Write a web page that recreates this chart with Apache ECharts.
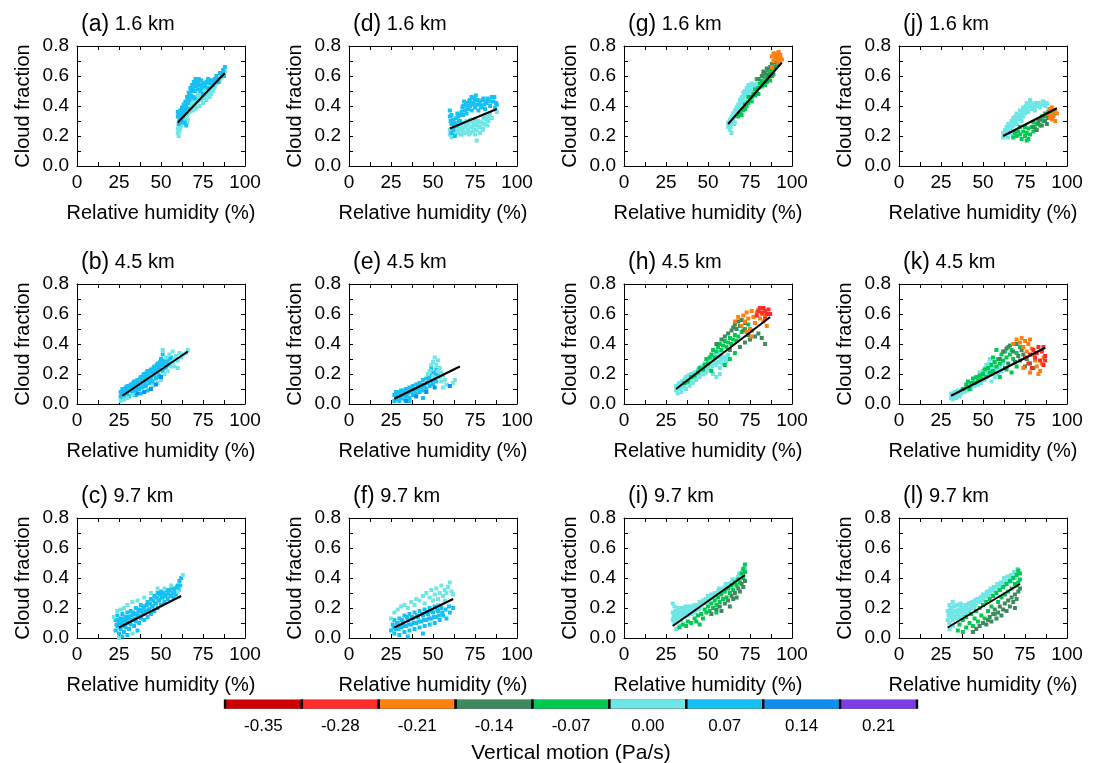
<!DOCTYPE html>
<html><head><meta charset="utf-8">
<script src="https://cdn.jsdelivr.net/npm/echarts@6/dist/echarts.min.js"></script>
<style>html,body{margin:0;padding:0;background:#fff}#c{width:1096px;height:763px}</style>
</head><body><div id="c"></div>
<script>
// ---- labels ----
const panelLetters = ['(a)','(b)','(c)','(d)','(e)','(f)','(g)','(h)','(i)','(j)','(k)','(l)'];
const panelHeights = ['1.6 km','4.5 km','9.7 km','1.6 km','4.5 km','9.7 km','1.6 km','4.5 km','9.7 km','1.6 km','4.5 km','9.7 km'];
const xTickValues = [0,25,50,75,100];
const yTickValues = [0.0,0.2,0.4,0.6,0.8];
const cbarLabels = ['-0.35','-0.28','-0.21','-0.14','-0.07','0.00','0.07','0.14','0.21'];
const cbarColors = ['#CC0000','#FF2B2B','#FF7F0F','#3D8A5E','#00C850','#6EE6E6','#17C0F2','#0E8FEF','#7B3CE8'];
const RED0=0, RED=1, ORANGE=2, DKGREEN=3, GREEN=4, CYAN=5, SKY=6, BLUE=7;

// ---- regression lines [rh, cf] endpoints ----
const fit_a=[[60,0.29],[88,0.62]], fit_b=[[27,0.055],[66,0.35]], fit_c=[[25,0.07],[62,0.28]];
const fit_d=[[60,0.25],[88,0.38]], fit_e=[[27,0.035],[66,0.25]], fit_f=[[27,0.07],[62,0.26]];
const fit_g=[[62,0.28],[94,0.69]], fit_h=[[31,0.10],[87,0.58]], fit_i=[[29,0.08],[72,0.42]];
const fit_j=[[62,0.20],[94,0.385]], fit_k=[[31,0.055],[87,0.375]], fit_l=[[29,0.07],[72,0.36]];

// ---- scatter data [rh, cloud fraction] ----
const a_cyan=[[60,0.22],[60,0.25],[60.5,0.20],[61,0.26],[62,0.27],[63,0.29],[64,0.32],[65,0.33],[66,0.35],[67,0.36],[68,0.38],[68,0.42],[69,0.40],[70,0.41],[70,0.44],[71,0.39],[71,0.46],[72,0.43],[72,0.48],[73,0.45],[73,0.40],[74,0.44],[74,0.49],[75,0.42],[75,0.50],[76,0.46],[76,0.51],[77,0.44],[77,0.49],[78,0.48],[79,0.50],[79,0.46],[80,0.52],[80,0.48],[81,0.50],[82,0.53],[83,0.55],[84,0.58],[85,0.57],[86,0.59],[87,0.61],[88,0.63],[68,0.45],[72,0.47],[76,0.47],[61,0.23],[66,0.31],[69,0.37]];
const a_cyan2=[[60.5,0.24],[61.5,0.25],[62.5,0.29],[63.5,0.31],[64.5,0.30],[65.5,0.34],[66.5,0.37],[67.5,0.39],[68.5,0.40],[69.5,0.43],[70.5,0.42],[71.5,0.44],[72.5,0.45],[73.5,0.47],[74.5,0.46],[75.5,0.48],[76.5,0.49],[77.5,0.47],[78.5,0.50],[79.5,0.52],[80.5,0.50],[81.5,0.52],[82.5,0.55],[84.5,0.56],[86.5,0.61],[65.5,0.29],[70.5,0.38],[75.5,0.45]];
const a_sky=[[60,0.36],[60,0.33],[61,0.31],[60.5,0.28],[61,0.34],[62,0.35],[62,0.30],[63,0.33],[63,0.37],[64,0.38],[64,0.29],[65,0.40],[65,0.27],[66,0.42],[66,0.45],[67,0.44],[67,0.48],[68,0.47],[68,0.50],[69,0.52],[69,0.46],[70,0.55],[70,0.50],[71,0.53],[71,0.57],[72,0.51],[72,0.56],[73,0.54],[74,0.52],[74,0.57],[75,0.55],[76,0.53],[77,0.56],[78,0.52],[79,0.55],[80,0.57],[81,0.54],[82,0.58],[83,0.60],[84,0.56],[85,0.62],[86,0.60],[87,0.64],[88,0.66],[62,0.32],[66,0.38],[70,0.45],[75,0.48],[78,0.58],[65,0.36]];
const a_sky2=[[60.5,0.35],[61.5,0.37],[62.5,0.39],[63.5,0.41],[64.5,0.43],[65.5,0.46],[66.5,0.49],[67.5,0.52],[68.5,0.54],[69.5,0.56],[70.5,0.58],[71.5,0.55],[72.5,0.58],[73.5,0.50],[74.5,0.54],[76.5,0.55],[79.5,0.57],[81.5,0.56],[83.5,0.58],[86.5,0.62],[87.5,0.60],[61.5,0.29],[63.5,0.35]];

const b_sky=[[26,0.05],[26,0.08],[27,0.03],[27,0.10],[28,0.06],[28,0.09],[29,0.04],[29,0.11],[30,0.07],[30,0.12],[31,0.05],[31,0.09],[32,0.10],[32,0.13],[33,0.08],[33,0.12],[34,0.10],[34,0.15],[35,0.09],[35,0.13],[36,0.11],[36,0.16],[37,0.10],[37,0.14],[38,0.13],[38,0.18],[39,0.11],[39,0.16],[40,0.15],[40,0.20],[41,0.12],[41,0.18],[42,0.16],[42,0.22],[43,0.14],[43,0.19],[44,0.17],[44,0.23],[45,0.15],[45,0.21],[46,0.19],[46,0.25],[47,0.17],[47,0.23],[48,0.21],[48,0.27],[49,0.19],[49,0.25],[50,0.23],[50,0.30],[51,0.22],[51,0.33],[52,0.27],[53,0.25],[54,0.29],[55,0.27],[56,0.31],[35,0.06],[38,0.07],[42,0.09]];
const b_sky2=[[26.5,0.06],[27.5,0.08],[28.5,0.07],[29.5,0.09],[30.5,0.10],[31.5,0.11],[32.5,0.09],[33.5,0.14],[34.5,0.12],[35.5,0.15],[36.5,0.13],[37.5,0.17],[38.5,0.15],[39.5,0.19],[40.5,0.17],[41.5,0.21],[42.5,0.19],[43.5,0.22],[44.5,0.20],[45.5,0.24],[46.5,0.22],[47.5,0.26],[48.5,0.24],[49.5,0.28],[50.5,0.26],[51.5,0.29],[52.5,0.24],[53.5,0.28],[54.5,0.26],[55.5,0.30],[40.5,0.13],[44.5,0.15],[48.5,0.18]];
const b_cyan=[[26,0.02],[28,0.03],[30,0.04],[33,0.06],[45,0.12],[48,0.14],[50,0.16],[51,0.36],[52,0.20],[53,0.31],[54,0.22],[55,0.33],[56,0.25],[57,0.28],[58,0.30],[58,0.25],[59,0.32],[60,0.29],[61,0.34],[62,0.31],[63,0.33],[65,0.34],[66,0.36],[57,0.35],[60,0.24]];
const b_blue=[[40,0.08],[44,0.10],[47,0.13],[50,0.18],[36,0.07]];

const c_sky=[[23,0.05],[23,0.12],[24,0.08],[24,0.15],[25,0.03],[25,0.10],[26,0.06],[26,0.13],[27,0.09],[27,0.16],[28,0.04],[28,0.11],[29,0.07],[29,0.14],[30,0.10],[30,0.17],[31,0.06],[31,0.13],[32,0.09],[32,0.18],[33,0.12],[34,0.08],[34,0.16],[35,0.11],[35,0.20],[36,0.14],[37,0.10],[37,0.19],[38,0.13],[38,0.22],[39,0.16],[40,0.12],[40,0.21],[41,0.18],[42,0.14],[42,0.24],[43,0.19],[44,0.16],[44,0.26],[45,0.21],[46,0.18],[46,0.28],[47,0.23],[48,0.20],[48,0.30],[49,0.25],[50,0.22],[50,0.31],[51,0.27],[52,0.24],[53,0.29],[54,0.26],[55,0.32],[56,0.28],[57,0.30],[58,0.33],[59,0.29],[60,0.35],[61,0.38],[62,0.40],[27,0.01],[30,0.02],[36,0.05]];
const c_sky2=[[23.5,0.09],[24.5,0.12],[25.5,0.07],[26.5,0.11],[27.5,0.13],[28.5,0.08],[29.5,0.12],[30.5,0.14],[31.5,0.10],[32.5,0.15],[33.5,0.17],[34.5,0.13],[35.5,0.16],[36.5,0.18],[37.5,0.15],[38.5,0.18],[39.5,0.20],[40.5,0.17],[41.5,0.22],[42.5,0.19],[43.5,0.23],[44.5,0.21],[45.5,0.25],[46.5,0.23],[47.5,0.27],[48.5,0.25],[49.5,0.29],[50.5,0.27],[51.5,0.30],[52.5,0.28],[53.5,0.32],[54.5,0.30],[55.5,0.28],[56.5,0.33],[57.5,0.27],[58.5,0.31],[59.5,0.34],[60.5,0.32],[61.5,0.35]];
const c_cyan=[[22,0.14],[24,0.18],[26,0.19],[28,0.20],[30,0.22],[33,0.24],[36,0.25],[40,0.27],[44,0.30],[48,0.33],[52,0.33],[56,0.35],[60,0.31],[63,0.42],[25,0.00],[33,0.03]];

const d_cyan=[[60,0.21],[60,0.24],[61,0.19],[62,0.22],[63,0.25],[64,0.23],[65,0.22],[65,0.27],[66,0.24],[67,0.21],[67,0.27],[68,0.25],[68,0.29],[69,0.22],[70,0.26],[70,0.30],[71,0.24],[71,0.28],[72,0.22],[72,0.31],[73,0.26],[74,0.24],[74,0.29],[75,0.21],[75,0.31],[76,0.27],[76,0.24],[77,0.30],[78,0.26],[78,0.22],[79,0.29],[80,0.25],[80,0.32],[81,0.28],[82,0.33],[83,0.30],[84,0.35],[85,0.32],[88,0.36],[76,0.17]];
const d_cyan2=[[63.5,0.22],[65.5,0.25],[66.5,0.21],[67.5,0.24],[68.5,0.22],[69.5,0.27],[70.5,0.23],[71.5,0.21],[72.5,0.26],[73.5,0.29],[73.5,0.23],[74.5,0.27],[75.5,0.24],[76.5,0.29],[77.5,0.26],[78.5,0.29],[79.5,0.24],[80.5,0.28],[81.5,0.31],[83.5,0.33],[82.5,0.27]];
const d_sky=[[60,0.37],[60,0.33],[60.5,0.30],[61,0.28],[61,0.34],[62,0.24],[62,0.31],[63,0.29],[64,0.32],[64,0.27],[65,0.33],[66,0.30],[67,0.36],[68,0.34],[68,0.40],[69,0.37],[70,0.42],[70,0.35],[71,0.38],[72,0.44],[72,0.40],[73,0.46],[73,0.37],[74,0.42],[75,0.39],[75,0.44],[76,0.41],[77,0.37],[78,0.43],[79,0.40],[80,0.45],[81,0.38],[82,0.42],[83,0.44],[84,0.40],[85,0.46],[86,0.43],[87,0.39],[88,0.41],[61,0.22],[63,0.20]];
const d_sky2=[[64.5,0.35],[66.5,0.34],[67.5,0.39],[68.5,0.43],[69.5,0.41],[70.5,0.39],[71.5,0.43],[72.5,0.42],[73.5,0.41],[74.5,0.45],[75.5,0.47],[76.5,0.44],[77.5,0.41],[78.5,0.39],[79.5,0.44],[80.5,0.41],[81.5,0.43],[82.5,0.45],[84.5,0.43],[86.5,0.46],[87.5,0.42],[62.5,0.27],[65.5,0.30]];

const e_sky=[[27,0.02],[27,0.06],[28,0.03],[28,0.08],[29,0.05],[30,0.02],[30,0.07],[31,0.04],[31,0.09],[32,0.06],[33,0.03],[33,0.08],[34,0.05],[34,0.10],[35,0.07],[36,0.04],[36,0.11],[37,0.08],[38,0.06],[38,0.12],[39,0.09],[40,0.07],[40,0.13],[41,0.10],[42,0.08],[42,0.14],[43,0.11],[44,0.09],[44,0.16],[45,0.12],[46,0.10],[46,0.17],[47,0.14],[48,0.12],[48,0.19],[49,0.15],[50,0.13],[50,0.21],[51,0.17],[52,0.15],[52,0.23],[53,0.19],[49,0.24],[44,0.04],[36,0.02]];
const e_sky2=[[28.5,0.05],[29.5,0.08],[31.5,0.06],[32.5,0.09],[34.5,0.07],[35.5,0.10],[37.5,0.10],[38.5,0.09],[40.5,0.10],[41.5,0.13],[43.5,0.13],[44.5,0.12],[46.5,0.14],[47.5,0.17],[49.5,0.18],[50.5,0.16],[51.5,0.20]];
const e_cyan=[[48,0.22],[49,0.26],[50,0.28],[51,0.31],[52,0.26],[53,0.29],[53,0.22],[54,0.24],[54,0.18],[55,0.21],[55,0.15],[56,0.19],[57,0.16],[58,0.13],[56,0.11],[62,0.14],[63,0.16],[50,0.18],[47,0.20]];
const e_blue=[[40,0.05],[46,0.08],[51,0.11],[60,0.12],[34,0.02]];

const f_sky=[[25,0.05],[26,0.09],[27,0.03],[27,0.12],[28,0.06],[29,0.10],[30,0.02],[30,0.13],[31,0.07],[32,0.11],[33,0.04],[33,0.15],[34,0.08],[35,0.12],[36,0.05],[36,0.16],[37,0.09],[38,0.13],[39,0.06],[39,0.17],[40,0.10],[41,0.14],[42,0.07],[42,0.18],[43,0.11],[44,0.15],[45,0.08],[45,0.19],[46,0.12],[47,0.16],[48,0.09],[48,0.20],[49,0.13],[50,0.17],[51,0.10],[51,0.21],[52,0.14],[53,0.18],[54,0.12],[55,0.20],[56,0.15],[58,0.13],[60,0.17],[62,0.20],[35,0.01],[44,0.03]];
const f_sky2=[[26.5,0.07],[28.5,0.10],[29.5,0.06],[31.5,0.12],[32.5,0.08],[34.5,0.14],[35.5,0.09],[37.5,0.14],[38.5,0.10],[40.5,0.15],[41.5,0.11],[43.5,0.16],[44.5,0.12],[46.5,0.17],[47.5,0.13],[49.5,0.18],[50.5,0.14],[52.5,0.19],[53.5,0.15],[55.5,0.17],[57.5,0.19],[59.5,0.21]];
const f_cyan=[[25,0.13],[27,0.17],[29,0.19],[31,0.21],[33,0.22],[35,0.20],[37,0.24],[39,0.22],[40,0.26],[42,0.25],[44,0.28],[45,0.23],[46,0.30],[48,0.27],[49,0.32],[50,0.25],[51,0.29],[52,0.33],[53,0.26],[54,0.30],[55,0.35],[56,0.28],[57,0.32],[58,0.30],[59,0.34],[60,0.37],[61,0.31],[62,0.29],[57,0.25],[53,0.22]];

const g_cyan=[[62,0.26],[62,0.29],[63,0.24],[63,0.31],[64,0.28],[64,0.33],[65,0.30],[65,0.35],[66,0.33],[66,0.37],[67,0.35],[67,0.39],[68,0.37],[68,0.41],[69,0.40],[69,0.44],[70,0.42],[70,0.46],[71,0.45],[71,0.49],[72,0.43],[72,0.50],[73,0.47],[73,0.52],[74,0.49],[74,0.54],[75,0.51],[76,0.50],[76,0.55],[77,0.53],[78,0.52],[79,0.55],[80,0.54],[81,0.53],[64,0.22],[66,0.29],[70,0.38],[75,0.47]];
const g_cyan2=[[62.5,0.27],[63.5,0.28],[64.5,0.31],[65.5,0.33],[66.5,0.35],[67.5,0.37],[68.5,0.39],[69.5,0.42],[70.5,0.44],[71.5,0.47],[72.5,0.48],[73.5,0.50],[74.5,0.52],[75.5,0.53],[77.5,0.54],[63.5,0.26],[65.5,0.28]];
const g_green=[[68,0.33],[69,0.35],[70,0.34],[71,0.37],[72,0.38],[72,0.41],[73,0.40],[74,0.42],[74,0.46],[75,0.44],[76,0.46],[76,0.43],[77,0.48],[78,0.47],[78,0.51],[79,0.49],[80,0.52],[80,0.48],[81,0.55],[82,0.53],[82,0.57],[83,0.56],[84,0.54],[84,0.59],[85,0.60],[85,0.56],[86,0.58],[87,0.62],[87,0.57],[88,0.64],[89,0.61],[90,0.66],[91,0.68],[92,0.70],[86,0.64],[83,0.61],[79,0.58]];
const g_dkgreen=[[80,0.58],[82,0.60],[83,0.63],[84,0.62],[85,0.65],[86,0.61],[87,0.66],[88,0.68],[89,0.66],[90,0.69],[88,0.60],[85,0.57]];
const g_orange=[[88,0.73],[89,0.70],[90,0.72],[90,0.75],[91,0.74],[91,0.71],[92,0.73],[92,0.76],[93,0.72],[93,0.74],[94,0.71],[92,0.69],[89,0.75],[88,0.66]];

const h_cyan=[[31,0.09],[31,0.12],[32,0.07],[32,0.11],[33,0.10],[33,0.14],[34,0.08],[34,0.13],[35,0.11],[35,0.15],[36,0.12],[36,0.16],[37,0.10],[37,0.18],[38,0.14],[38,0.17],[39,0.12],[39,0.19],[40,0.15],[40,0.20],[41,0.14],[42,0.18],[42,0.21],[43,0.16],[44,0.20],[44,0.23],[45,0.18],[46,0.22],[46,0.25],[47,0.20],[48,0.23],[48,0.27],[49,0.21],[50,0.25],[50,0.29],[51,0.23],[52,0.27],[52,0.31],[53,0.20],[54,0.29],[54,0.33],[55,0.26],[56,0.31],[56,0.35],[57,0.24],[58,0.30],[58,0.33],[59,0.27],[60,0.31],[61,0.29],[62,0.33],[57,0.20],[55,0.18]];
const h_cyan2=[[31.5,0.10],[32.5,0.13],[33.5,0.12],[34.5,0.15],[35.5,0.13],[36.5,0.17],[37.5,0.15],[38.5,0.19],[39.5,0.16],[40.5,0.18],[41.5,0.20],[42.5,0.17],[43.5,0.20],[44.5,0.22],[45.5,0.21],[46.5,0.24],[47.5,0.22],[48.5,0.25],[49.5,0.24],[50.5,0.27],[51.5,0.29],[52.5,0.25],[53.5,0.30],[54.5,0.27],[55.5,0.32],[56.5,0.28],[57.5,0.33],[58.5,0.27],[59.5,0.31],[60.5,0.28],[61.5,0.32]];
const h_green=[[36,0.14],[38,0.15],[40,0.18],[42,0.19],[44,0.21],[45,0.24],[47,0.23],[48,0.26],[49,0.30],[50,0.27],[51,0.31],[52,0.33],[53,0.36],[54,0.31],[55,0.35],[56,0.38],[57,0.40],[58,0.36],[59,0.39],[60,0.42],[61,0.38],[62,0.41],[63,0.44],[64,0.40],[65,0.43],[66,0.46],[67,0.42],[68,0.45],[70,0.48],[72,0.50],[60,0.26],[63,0.30],[66,0.34],[52,0.22],[74,0.53]];
const h_dkgreen=[[55,0.40],[58,0.43],[60,0.45],[62,0.47],[64,0.49],[65,0.51],[66,0.53],[67,0.50],[68,0.55],[69,0.52],[70,0.56],[71,0.49],[72,0.54],[74,0.46],[75,0.43],[76,0.49],[78,0.45],[80,0.47],[82,0.44],[84,0.40],[69,0.38],[72,0.41],[63,0.36]];
const h_orange=[[66,0.55],[68,0.58],[70,0.52],[71,0.59],[72,0.55],[73,0.61],[74,0.57],[75,0.50],[76,0.62],[77,0.58],[78,0.54],[79,0.61],[80,0.63],[81,0.57],[82,0.60],[83,0.55],[84,0.59],[85,0.52],[73,0.48],[76,0.45]];
const h_red=[[79,0.59],[80,0.62],[81,0.64],[82,0.61],[83,0.64],[84,0.62],[85,0.60],[86,0.63],[87,0.60],[84,0.57]];

const i_cyan=[[29,0.12],[29,0.17],[30,0.10],[30,0.15],[30,0.21],[31,0.13],[31,0.18],[32,0.11],[32,0.16],[32,0.20],[33,0.14],[33,0.19],[34,0.12],[34,0.17],[35,0.15],[35,0.20],[36,0.14],[36,0.18],[37,0.16],[37,0.20],[38,0.15],[38,0.19],[39,0.17],[40,0.16],[40,0.21],[41,0.18],[42,0.17],[42,0.22],[43,0.19],[44,0.21],[45,0.20],[45,0.24],[46,0.22],[47,0.25],[48,0.23],[49,0.26],[50,0.24],[50,0.28],[51,0.26],[52,0.29],[53,0.27],[54,0.30],[55,0.28],[56,0.31],[57,0.30],[58,0.33],[59,0.31],[60,0.34],[61,0.33],[62,0.36],[63,0.34],[64,0.37],[65,0.36],[66,0.39],[67,0.38],[68,0.41],[69,0.40],[70,0.43],[71,0.42],[72,0.46],[31,0.06],[33,0.08],[29,0.23]];
const i_cyan2=[[29.5,0.14],[30.5,0.18],[31.5,0.16],[32.5,0.14],[33.5,0.17],[34.5,0.20],[35.5,0.17],[36.5,0.21],[37.5,0.18],[38.5,0.21],[39.5,0.19],[40.5,0.18],[41.5,0.21],[42.5,0.20],[43.5,0.22],[44.5,0.19],[46.5,0.24],[48.5,0.26],[50.5,0.26],[52.5,0.28],[54.5,0.29],[56.5,0.33],[58.5,0.32],[60.5,0.36],[62.5,0.35],[64.5,0.39],[66.5,0.37],[68.5,0.43],[70.5,0.45],[71.5,0.47]];
const i_green=[[33,0.07],[35,0.09],[37,0.08],[38,0.11],[40,0.10],[42,0.13],[43,0.11],[44,0.15],[46,0.16],[47,0.13],[48,0.19],[49,0.17],[50,0.21],[51,0.18],[52,0.23],[53,0.20],[54,0.25],[55,0.22],[56,0.27],[57,0.24],[58,0.29],[59,0.26],[60,0.31],[61,0.27],[62,0.33],[63,0.30],[64,0.35],[65,0.32],[66,0.37],[67,0.35],[68,0.39],[69,0.37],[70,0.43],[71,0.46],[72,0.49],[72,0.44],[71,0.40],[45,0.09],[55,0.17]];
const i_dkgreen=[[52,0.16],[55,0.19],[57,0.21],[58,0.18],[60,0.23],[62,0.25],[63,0.21],[64,0.28],[65,0.26],[66,0.30],[67,0.27],[68,0.33],[69,0.31],[70,0.36],[71,0.34],[72,0.38]];

const j_cyan=[[62,0.19],[62,0.22],[63,0.20],[63,0.24],[64,0.22],[64,0.26],[65,0.24],[65,0.28],[66,0.22],[66,0.27],[67,0.25],[67,0.30],[68,0.27],[68,0.32],[69,0.29],[69,0.33],[70,0.28],[70,0.35],[71,0.31],[72,0.34],[72,0.37],[73,0.30],[73,0.36],[74,0.33],[74,0.39],[75,0.35],[76,0.38],[76,0.42],[77,0.36],[78,0.40],[78,0.44],[79,0.38],[80,0.41],[81,0.37],[82,0.40],[83,0.42],[84,0.39],[85,0.41],[86,0.43],[87,0.40],[88,0.42],[89,0.38],[65,0.19],[68,0.21]];
const j_cyan2=[[62.5,0.21],[63.5,0.22],[64.5,0.24],[65.5,0.26],[66.5,0.25],[67.5,0.28],[68.5,0.30],[69.5,0.31],[70.5,0.32],[71.5,0.34],[72.5,0.32],[73.5,0.35],[74.5,0.37],[75.5,0.40],[76.5,0.36],[77.5,0.39],[78.5,0.42],[79.5,0.41],[80.5,0.39],[81.5,0.42],[83.5,0.40],[85.5,0.43],[87.5,0.41]];
const j_green=[[68,0.19],[69,0.22],[70,0.20],[71,0.23],[72,0.21],[72,0.26],[73,0.18],[74,0.23],[75,0.20],[75,0.26],[76,0.22],[77,0.25],[77,0.18],[78,0.21],[79,0.26],[80,0.23],[80,0.29],[81,0.25],[82,0.28],[83,0.31],[84,0.27],[85,0.33],[86,0.30],[87,0.35],[88,0.33],[89,0.36],[90,0.34],[91,0.37],[92,0.35],[76,0.17]];
const j_dkgreen=[[80,0.26],[82,0.24],[83,0.29],[84,0.31],[85,0.27],[86,0.33],[87,0.30],[88,0.28],[89,0.32],[90,0.37]];
const j_orange=[[89,0.35],[90,0.32],[90,0.38],[91,0.34],[91,0.31],[92,0.37],[92,0.33],[93,0.36],[93,0.30],[94,0.35],[91,0.39]];

const k_cyan=[[31,0.04],[31,0.07],[32,0.03],[32,0.06],[33,0.05],[33,0.08],[34,0.04],[34,0.07],[35,0.06],[35,0.09],[36,0.05],[36,0.08],[37,0.07],[38,0.09],[39,0.08],[40,0.11],[41,0.09],[42,0.12],[43,0.10],[44,0.13],[45,0.12],[46,0.15],[47,0.13],[48,0.16],[49,0.14],[50,0.18],[50,0.22],[51,0.16],[52,0.20],[52,0.26],[53,0.19],[54,0.23],[54,0.30],[55,0.21],[56,0.25],[57,0.18],[58,0.23],[59,0.20],[60,0.25],[61,0.22],[62,0.27],[55,0.15],[48,0.21],[45,0.17]];
const k_cyan2=[[31.5,0.05],[32.5,0.05],[33.5,0.07],[34.5,0.06],[35.5,0.08],[36.5,0.07],[37.5,0.09],[38.5,0.10],[39.5,0.10],[40.5,0.12],[41.5,0.11],[42.5,0.14],[43.5,0.12],[44.5,0.15],[46.5,0.13],[48.5,0.18],[50.5,0.20],[51.5,0.24],[52.5,0.22],[53.5,0.27],[55.5,0.24],[56.5,0.28],[57.5,0.22],[59.5,0.24]];
const k_green=[[38,0.10],[40,0.13],[41,0.15],[42,0.10],[43,0.14],[44,0.17],[45,0.14],[46,0.18],[47,0.16],[48,0.19],[49,0.17],[50,0.20],[51,0.23],[52,0.18],[53,0.24],[54,0.21],[55,0.26],[56,0.22],[57,0.28],[58,0.25],[59,0.30],[60,0.27],[61,0.33],[62,0.29],[63,0.35],[64,0.31],[65,0.38],[66,0.33],[67,0.36],[68,0.30],[70,0.34],[72,0.38],[60,0.18],[64,0.23],[67,0.21],[70,0.25],[56,0.31],[58,0.36]];
const k_dkgreen=[[60,0.30],[62,0.35],[64,0.37],[65,0.27],[66,0.39],[68,0.35],[69,0.28],[70,0.40],[71,0.32],[72,0.29],[73,0.36],[74,0.33],[75,0.25],[76,0.30],[78,0.27],[80,0.24],[63,0.24]];
const k_orange=[[68,0.40],[70,0.43],[72,0.41],[73,0.44],[74,0.38],[75,0.42],[76,0.35],[77,0.40],[78,0.43],[79,0.37],[80,0.33],[81,0.29],[82,0.25],[83,0.20],[84,0.22],[85,0.27],[74,0.24],[78,0.21],[86,0.31]];
const k_red=[[75,0.31],[77,0.27],[78,0.33],[79,0.24],[80,0.36],[81,0.31],[82,0.34],[83,0.38],[84,0.29],[85,0.35],[86,0.38],[87,0.32],[86,0.26],[87,0.29]];

const l_cyan=[[29,0.12],[29,0.18],[30,0.10],[30,0.16],[30,0.22],[31,0.14],[31,0.20],[32,0.12],[32,0.17],[32,0.24],[33,0.15],[33,0.21],[34,0.13],[34,0.18],[35,0.16],[35,0.22],[36,0.14],[36,0.19],[37,0.17],[37,0.22],[38,0.15],[38,0.20],[39,0.18],[40,0.16],[40,0.21],[41,0.19],[42,0.18],[42,0.23],[43,0.20],[44,0.22],[45,0.21],[45,0.25],[46,0.23],[47,0.25],[48,0.24],[49,0.27],[50,0.25],[50,0.29],[51,0.27],[52,0.30],[53,0.28],[54,0.31],[55,0.29],[56,0.32],[57,0.31],[58,0.34],[59,0.32],[60,0.35],[61,0.34],[62,0.37],[63,0.35],[64,0.38],[65,0.37],[66,0.40],[67,0.38],[68,0.41],[69,0.40],[70,0.43],[71,0.44],[30,0.06],[32,0.08]];
const l_cyan2=[[29.5,0.15],[30.5,0.19],[31.5,0.17],[32.5,0.21],[33.5,0.18],[34.5,0.22],[35.5,0.19],[36.5,0.23],[37.5,0.20],[38.5,0.18],[39.5,0.22],[40.5,0.19],[41.5,0.23],[42.5,0.21],[43.5,0.24],[44.5,0.20],[46.5,0.26],[48.5,0.27],[50.5,0.28],[52.5,0.31],[54.5,0.33],[56.5,0.34],[58.5,0.36],[60.5,0.37],[62.5,0.40],[64.5,0.41],[66.5,0.42],[68.5,0.44],[70.5,0.46]];
const l_green=[[35,0.05],[36,0.09],[38,0.04],[38,0.12],[40,0.07],[40,0.14],[42,0.10],[43,0.16],[44,0.08],[45,0.13],[46,0.18],[47,0.11],[48,0.20],[49,0.15],[50,0.22],[51,0.13],[52,0.24],[53,0.18],[54,0.26],[55,0.21],[56,0.28],[57,0.16],[58,0.30],[59,0.24],[60,0.32],[61,0.27],[62,0.34],[63,0.29],[64,0.36],[65,0.31],[66,0.38],[67,0.33],[68,0.40],[69,0.36],[70,0.42],[71,0.45],[72,0.43],[72,0.39],[71,0.37],[70,0.35]];
const l_dkgreen=[[44,0.04],[46,0.06],[48,0.08],[50,0.10],[52,0.09],[53,0.12],[54,0.14],[55,0.11],[56,0.16],[57,0.19],[58,0.13],[59,0.17],[60,0.21],[61,0.15],[62,0.19],[63,0.23],[64,0.18],[65,0.25],[66,0.21],[67,0.27],[68,0.24],[69,0.29],[70,0.26],[71,0.31],[72,0.33],[69,0.20]];

const panels = [
  {groups:[[a_cyan,CYAN],[a_cyan2,CYAN],[a_sky,SKY],[a_sky2,SKY]], fit:fit_a},
  {groups:[[b_sky,SKY],[b_sky2,SKY],[b_cyan,CYAN],[b_blue,BLUE]], fit:fit_b},
  {groups:[[c_sky,SKY],[c_sky2,SKY],[c_cyan,CYAN]], fit:fit_c},
  {groups:[[d_cyan,CYAN],[d_cyan2,CYAN],[d_sky,SKY],[d_sky2,SKY]], fit:fit_d},
  {groups:[[e_sky,SKY],[e_sky2,SKY],[e_cyan,CYAN],[e_blue,BLUE]], fit:fit_e},
  {groups:[[f_sky,SKY],[f_sky2,SKY],[f_cyan,CYAN]], fit:fit_f},
  {groups:[[g_cyan,CYAN],[g_cyan2,CYAN],[g_green,GREEN],[g_dkgreen,DKGREEN],[g_orange,ORANGE]], fit:fit_g},
  {groups:[[h_cyan,CYAN],[h_cyan2,CYAN],[h_green,GREEN],[h_dkgreen,DKGREEN],[h_orange,ORANGE],[h_red,RED]], fit:fit_h},
  {groups:[[i_cyan,CYAN],[i_cyan2,CYAN],[i_green,GREEN],[i_dkgreen,DKGREEN]], fit:fit_i},
  {groups:[[j_cyan,CYAN],[j_cyan2,CYAN],[j_green,GREEN],[j_dkgreen,DKGREEN],[j_orange,ORANGE]], fit:fit_j},
  {groups:[[k_cyan,CYAN],[k_cyan2,CYAN],[k_green,GREEN],[k_dkgreen,DKGREEN],[k_orange,ORANGE],[k_red,RED]], fit:fit_k},
  {groups:[[l_cyan,CYAN],[l_cyan2,CYAN],[l_green,GREEN],[l_dkgreen,DKGREEN]], fit:fit_l}
];

// ---- layout ----
const FONT = '"Liberation Sans", Arial, Helvetica, sans-serif';
const colLeft = [77, 349, 624, 899];
const rowTop = [46, 284, 518];
const PW = 168, PH = 120;

const grids=[], xAxes=[], yAxes=[], series=[], titles=[];
const tickCommon = {show:true, inside:true, length:4, lineStyle:{color:'#000', width:1}};
const minorCommon = {show:true, splitNumber:2, length:4, lineStyle:{color:'#000', width:1}};

panels.forEach((p, idx) => {
  const col = Math.floor(idx/3), row = idx%3;
  grids.push({left:colLeft[col], top:rowTop[row], width:PW, height:PH, show:false});
  const xBase = {type:'value', gridIndex:idx, min:0, max:100, interval:25,
    axisLine:{show:true, onZero:false, lineStyle:{color:'#000', width:1}},
    axisTick:tickCommon, minorTick:minorCommon, splitLine:{show:false}, minorSplitLine:{show:false}};
  xAxes.push(Object.assign({}, xBase, {position:'bottom',
    axisLabel:{color:'#000', fontSize:19, fontFamily:FONT, margin:7},
    name:'Relative humidity (%)', nameLocation:'middle', nameGap:37,
    nameTextStyle:{color:'#000', fontSize:20, fontFamily:FONT}}));
  xAxes.push(Object.assign({}, xBase, {position:'top', axisLabel:{show:false}}));
  const yBase = {type:'value', gridIndex:idx, min:0, max:0.8, interval:0.2,
    axisLine:{show:true, onZero:false, lineStyle:{color:'#000', width:1}},
    axisTick:tickCommon, minorTick:minorCommon, splitLine:{show:false}, minorSplitLine:{show:false}};
  yAxes.push(Object.assign({}, yBase, {position:'left',
    axisLabel:{color:'#000', fontSize:19, fontFamily:FONT, margin:8, formatter:v=>v.toFixed(1)},
    name:'Cloud fraction', nameLocation:'middle', nameGap:44, nameRotate:90,
    nameTextStyle:{color:'#000', fontSize:20, fontFamily:FONT}}));
  yAxes.push(Object.assign({}, yBase, {position:'right', axisLabel:{show:false}}));

  titles.push({text:'{l|'+panelLetters[idx]+'}{h| '+panelHeights[idx]+'}', left:colLeft[col]-1, top:rowTop[row]-38,
    textStyle:{fontWeight:'normal', rich:{l:{fontSize:23, fontWeight:'normal', fontFamily:FONT, color:'#000'}, h:{fontSize:20, fontWeight:'normal', fontFamily:FONT, color:'#000'}}}});

  p.groups.forEach(g => {
    series.push({type:'scatter', xAxisIndex:2*idx, yAxisIndex:2*idx, data:g[0],
      symbol:'rect', symbolSize:4, itemStyle:{color:cbarColors[g[1]], opacity:1}, silent:true, z:2});
  });
  series.push({type:'line', xAxisIndex:2*idx, yAxisIndex:2*idx, data:p.fit, symbol:'none',
    lineStyle:{color:'#000', width:2}, silent:true, z:5});
});

// colour bar: one rectangle per category of its own axis
const cbIdx = panels.length;
const CBW = 692, CBH = 9;
grids.push({left:225, top:703, width:CBW, height:CBH, show:false});
xAxes.push({type:'category', gridIndex:cbIdx, data:cbarLabels, axisLine:{show:false}, axisTick:{show:false},
  axisLabel:{color:'#000', fontSize:17, fontFamily:FONT, margin:13},
  name:'Vertical motion (Pa/s)', nameLocation:'middle', nameGap:37,
  nameTextStyle:{color:'#000', fontSize:21, fontFamily:FONT}});
yAxes.push({type:'value', gridIndex:cbIdx, min:0, max:1, show:false});
series.push({type:'scatter', xAxisIndex:2*cbIdx, yAxisIndex:2*cbIdx, silent:true, symbol:'rect',
  symbolSize:[CBW/cbarLabels.length, CBH],
  data:cbarLabels.map((lab,i)=>({value:[lab,0.5], itemStyle:{color:cbarColors[i], opacity:1, borderColor:'#000', borderWidth:0.8}}))});

const chart = echarts.init(document.getElementById('c'), null, {renderer:'canvas'});
chart.setOption({backgroundColor:'#fff', animation:false, title:titles, grid:grids,
  xAxis:xAxes, yAxis:yAxes, series:series});
</script></body></html>
